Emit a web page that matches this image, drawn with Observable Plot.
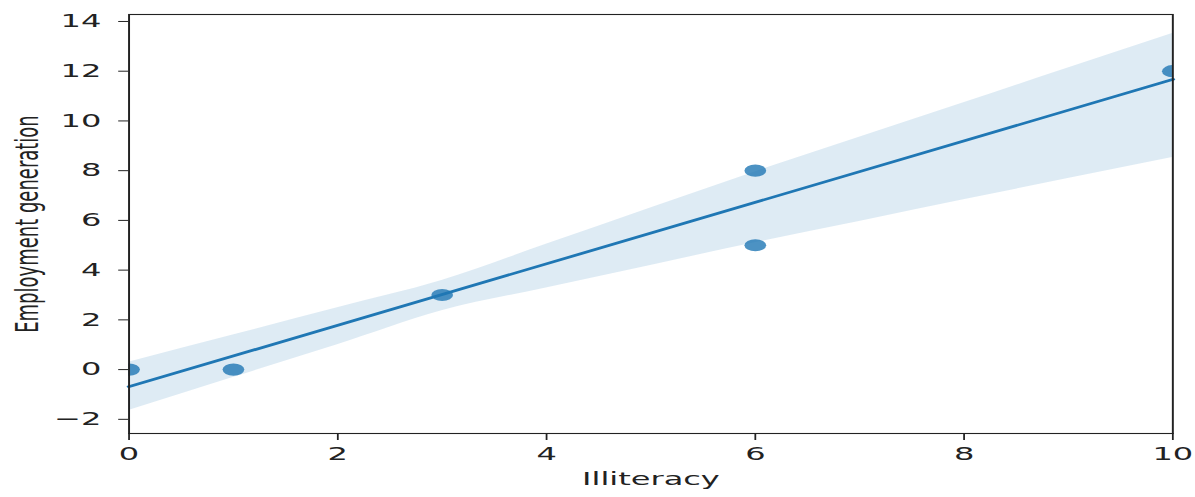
<!DOCTYPE html>
<html>
<head>
<meta charset="utf-8">
<script src="https://cdn.jsdelivr.net/npm/d3@7"></script>
<script src="https://cdn.jsdelivr.net/npm/@observablehq/plot@0.6"></script>
<style>
  html, body { margin: 0; padding: 0; background: #fff; }
  #chart { width: 1195px; height: 497px; overflow: hidden; }
  /* the figure is drawn narrow, then widened horizontally */
  #chart svg { transform: scaleX(1.78); transform-origin: 0 0; display: block; }
</style>
</head>
<body>
<div id="chart"></div>
<script>
// Observations
const illiteracy = [0, 1, 3, 6, 6, 10];
const employment = [0, 0, 3, 8, 5, 12];

// Confidence band of the fitted line (lower / upper bound at each x)
const bandX    = [0, 1, 2, 3, 4, 5, 6, 7, 8, 9, 10];
const bandLow  = [-1.65, -0.32, 1.00, 2.37, 3.28, 4.19, 5.10, 5.96, 6.83, 7.68, 8.53];
const bandHigh = [0.30, 1.39, 2.49, 3.58, 5.04, 6.50, 7.95, 9.34, 10.73, 12.13, 13.52];

// Axis ticks
const xTicks = [0, 2, 4, 6, 8, 10];
const yTicks = [-2, 0, 2, 4, 6, 8, 10, 12, 14];

const points = illiteracy.map((x, i) => ({x, y: employment[i]}));
const band = bandX.map((x, i) => ({x, lo: bandLow[i], hi: bandHigh[i]}));

const blue = "#1f77b4";
const ink = "#222";
const fmt = d => d < 0 ? "\u2212" + Math.abs(d) : String(d);

const chart = Plot.plot({
  width: 671,
  height: 497,
  marginLeft: 72,
  marginRight: 12.6,
  marginTop: 14,
  marginBottom: 64,
  x: {domain: [0, 10]},
  y: {domain: [-2.57, 14.28]},
  style: {fontFamily: "DejaVu Sans", fontSize: "18px", color: ink, background: "#fff"},
  marks: [
    Plot.areaY(band, {x: "x", y1: "lo", y2: "hi", curve: "monotone-x", fill: blue, fillOpacity: 0.15, clip: true}),
    Plot.dot(points, {x: "x", y: "y", r: 6.1, fill: blue, fillOpacity: 0.8, stroke: "none", clip: true}),
    Plot.linearRegressionY(points, {x: "x", y: "y", ci: 0, stroke: blue, strokeWidth: 2.6}),
    Plot.frame({stroke: ink, strokeWidth: 1.1}),
    Plot.axisX({ticks: xTicks, tickFormat: fmt, tickSize: 7, tickPadding: 7, label: null, stroke: ink}),
    Plot.axisY({ticks: yTicks, tickFormat: fmt, tickSize: 5.6, tickPadding: 10, label: null, stroke: ink}),
    Plot.text(["Illiteracy"], {frameAnchor: "bottom", lineAnchor: "top", dy: 39, fill: ink}),
    Plot.text(["Employment generation"], {frameAnchor: "left", textAnchor: "middle", rotate: -90, lineAnchor: "bottom", dx: -51, fill: ink})
  ]
});

document.getElementById("chart").appendChild(chart);
</script>
</body>
</html>
